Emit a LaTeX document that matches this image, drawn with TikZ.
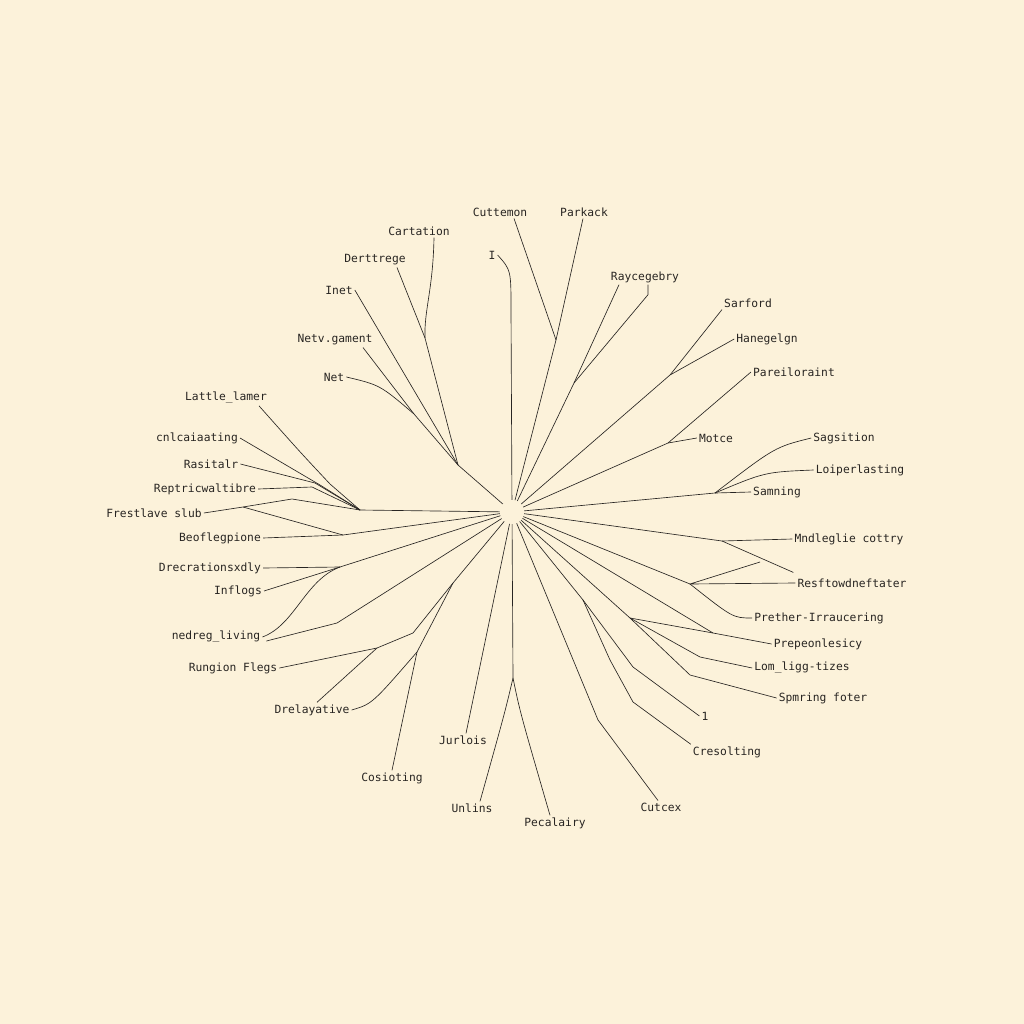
\documentclass[tikz,border=0pt]{standalone}
\usepackage{fontspec}
\newfontfamily\lblfont{DejaVu Sans Mono}
\usetikzlibrary{positioning}

\definecolor{paper}{RGB}{252,242,218}
\definecolor{ink}{RGB}{40,37,34}

\tikzset{
  lbl/.style={font=\lblfont\fontsize{11.3}{13}\selectfont, text=ink, inner sep=2pt},
  br/.style={draw=ink, line width=0.65pt, line join=round},
}

\begin{document}
\begin{tikzpicture}[x=1pt,y=-1pt]
\useasboundingbox[fill=paper] (0,0) rectangle (1024,1024);

% centre of the tree
\node[circle,minimum size=24pt,inner sep=0pt] (hub) at (512,512) {};

% labels, top
\node[lbl] (cutt) at (500,212) {Cuttemon};
\node[lbl] (park) at (584,212) {Parkack};
\node[lbl] (cart) at (419,231) {Cartation};
\node[lbl] (dert) at (375,260) {Derttrege};
\node[lbl] (one) at (492,255) {I};
\node[lbl] (inet) at (339,290) {Inet};
\node[lbl] (netv) at (335,340) {Netv.gament};
\node[lbl] (net) at (334,377) {Net};
\node[lbl] (rayc) at (645,277) {Raycegebry};
\node[lbl] (sarf) at (748,303) {Sarford};
\node[lbl] (hane) at (767,339) {Hanegelgn};
\node[lbl] (pare) at (794,372) {Pareiloraint};
% labels, right
\node[lbl] (motc) at (716,438) {Motce};
\node[lbl] (sags) at (844,438) {Sagsition};
\node[lbl] (loip) at (860,470) {Loiperlasting};
\node[lbl] (samn) at (777,492) {Samning};
\node[lbl] (mndl) at (849,539) {Mndleglie cottry};
\node[lbl] (resf) at (852,583) {Resftowdneftater};
\node[lbl] (pret) at (819,618) {Prether-Irraucering};
\node[lbl] (prep) at (818,644) {Prepeonlesicy};
\node[lbl] (loml) at (802,668) {Lom\_ligg-tizes};
\node[lbl] (spmr) at (823,698) {Spmring foter};
\node[lbl] (ione) at (705,716) {1};
\node[lbl] (cres) at (727,752) {Cresolting};
% labels, bottom
\node[lbl] (cutc) at (661,807) {Cutcex};
\node[lbl] (peca) at (555,823) {Pecalairy};
\node[lbl] (unli) at (472,808) {Unlins};
\node[lbl] (jurl) at (463,740) {Jurlois};
\node[lbl] (cosi) at (392,778) {Cosioting};
\node[lbl] (drel) at (312,710) {Drelayative};
% labels, left
\node[lbl] (rung) at (233,668) {Rungion Flegs};
\node[lbl] (nedr) at (216,637) {nedreg\_living};
\node[lbl] (infl) at (238,591) {Inflogs};
\node[lbl] (drec) at (210,568) {Drecrationsxdly};
\node[lbl] (beof) at (220,538) {Beoflegpione};
\node[lbl] (fres) at (154,513) {Frestlave slub};
\node[lbl] (rept) at (205,489) {Reptricwaltibre};
\node[lbl] (rasi) at (211,464) {Rasitalr};
\node[lbl] (cnlc) at (197,438) {cnlcaiaating};
\node[lbl] (latt) at (226,398) {Lattle\_lamer};

% branch points
\coordinate (jUL) at (458,465);
\coordinate (jCD) at (425,338);
\coordinate (jNN) at (414,414);
\coordinate (jCP) at (556,340);
\coordinate (jRy) at (574,383);
\coordinate (jSH) at (670,375);
\coordinate (jPM) at (668,443);
\coordinate (jSL) at (715,493);
\coordinate (jMR) at (722,541);
\coordinate (jRa) at (760,562);
\coordinate (jRP) at (690,584);
\coordinate (jPp) at (713,633);
\coordinate (jLS) at (630,618);
\coordinate (j1C) at (583,600);
\coordinate (jCu) at (598,720);
\coordinate (jUP) at (513,678);
\coordinate (jDC) at (417,652);
\coordinate (jRF) at (377,648);
\coordinate (jLo) at (453,583);
\coordinate (jDI) at (340,567);
\coordinate (jBF) at (343,535);
\coordinate (jFs) at (243,507);
\coordinate (jFk) at (292,499);
\coordinate (jLt) at (360,510);

% upper left
\draw[br] ([xshift=15pt]cart.south) .. controls (433,290) and (424,310) .. (jCD);
\draw[br] ([xshift=22pt]dert.south) -- (jCD) -- (jUL);
\draw[br] (inet.east) -- (jUL);
\draw[br] ([xshift=28pt]netv.south) -- (jNN);
\draw[br] (net.east) .. controls (380,385) .. (jNN) -- (jUL);
\draw[br] (jUL) -- (hub);
% top
\draw[br] (one.east) .. controls (511,270) .. (511,310) -- (hub);
\draw[br] ([xshift=14pt]cutt.south) -- (jCP);
\draw[br] ([xshift=-1pt]park.south) -- (jCP) -- (hub);
\draw[br] ([xshift=-26pt]rayc.south) -- (jRy);
\draw[br] ([xshift=3pt]rayc.south) -- ++(0,10) -- (jRy) -- (hub);
\draw[br] ([xshift=-26pt]sarf.south) -- (jSH);
\draw[br] (hane.west) -- (jSH) -- (hub);
\draw[br] (pare.west) -- (jPM);
\draw[br] (motc.west) -- (jPM) -- (hub);
% right
\draw[br] (sags.west) .. controls (775,447) .. (jSL);
\draw[br] (loip.west) .. controls (765,472) .. (jSL);
\draw[br] (samn.west) -- (jSL) -- (hub);
\draw[br] (mndl.west) -- (jMR) -- (hub);
\draw[br] (jMR) -- ([shift={(-2pt,4pt)}]resf.north west);
\draw[br] (resf.west) -- (jRP) -- (jRa);
\draw[br] (jRP) -- (hub);
\draw[br] (pret.west) .. controls (733,618) .. (jRP);
\draw[br] (prep.west) -- (jPp) -- (jLS);
\draw[br] (jPp) -- (hub);
\draw[br] (loml.west) -- (700,657) -- (jLS);
\draw[br] (spmr.west) -- (690,675) -- (jLS);
\draw[br] (jLS) -- (hub);
\draw[br] (ione.west) -- (633,667) -- (j1C);
\draw[br] (cres.north west) -- (633,702) -- (610,660) -- (j1C);
\draw[br] (j1C) -- (hub);
% bottom
\draw[br] ([xshift=-3pt]cutc.north) -- (jCu) -- (hub);
\draw[br] ([xshift=-5pt]peca.north) .. controls (520,712) .. (jUP);
\draw[br] ([xshift=8pt]unli.north) .. controls (505,712) .. (jUP);
\draw[br] (jUP) -- (hub);
\draw[br] ([xshift=3pt]jurl.north) -- (hub);
\draw[br] (cosi.north) -- (jDC);
\draw[br] (drel.east) .. controls (372,704) .. (jDC) -- (jLo);
\draw[br] ([xshift=5pt]drel.north) -- (jRF);
\draw[br] (rung.east) -- (jRF) -- (413,633) -- (jLo);
\draw[br] (jLo) -- (hub);
% left
\draw[br] (nedr.east) .. controls (295,625) and (305,580) .. (jDI);
\draw[br] ([shift={(4pt,-4pt)}]nedr.east) -- (337,623) -- (hub);
\draw[br] (drec.east) -- (jDI);
\draw[br] (infl.east) -- (jDI) -- (hub);
\draw[br] (beof.east) -- (jBF) -- (hub);
\draw[br] (fres.east) -- (jFs) -- (jFk) -- (jLt);
\draw[br] (jFs) -- (jBF);
\draw[br] (rept.east) -- (312,487) -- (jLt);
\draw[br] (rasi.east) -- (315,483) -- (jLt);
\draw[br] (cnlc.east) -- (320,485) -- (jLt);
\draw[br] ([xshift=-10pt]latt.south east) .. controls (300,452) .. (330,484) -- (jLt);
\draw[br] (jLt) -- (hub);
\end{tikzpicture}
\end{document}
